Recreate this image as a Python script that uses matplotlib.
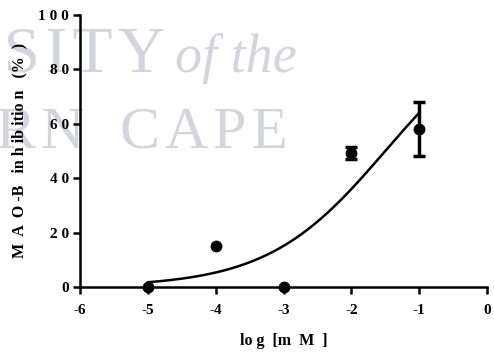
import numpy as np
import matplotlib.pyplot as plt

# data
log_conc = [-5, -4, -3, -2, -1]
inhibition = [0.0, 15.0, 0.0, 49.3, 58.0]
sem = [0.0, 0.0, 0.0, 2.2, 9.8]

# sigmoid fit (bottom, top, logIC50, hill)
fit_bottom = 0.0
fit_top = 100.0
fit_logic50 = -1.5
fit_hill = 0.5

x_ticks = [-6, -5, -4, -3, -2, -1, 0]
y_ticks = [0, 20, 40, 60, 80, 100]

plt.rcParams['font.family'] = ['Liberation Serif', 'DejaVu Serif']

fig = plt.figure(figsize=(4.94, 3.53), dpi=100)
ax = fig.add_axes([0.162, 0.187, 0.824, 0.771])
ax.patch.set_visible(False)
ax.set_zorder(2)

# watermark behind everything
wm = '#d4d4dd'
hs = '\u200a'
fig.text(0.334, 0.796, hs.join('UNIVERSITY'), color=wm, fontsize=47, ha='right',
         va='baseline', zorder=-1)
fig.text(0.354, 0.796, 'of the', color=wm, fontsize=39, style='italic',
         ha='left', va='baseline', zorder=-1)
fig.text(0.17, 0.581, hs.join('WESTERN'), color=wm, fontsize=43, ha='right',
         va='baseline', zorder=-1)
fig.text(0.243, 0.581, hs.join('CAPE'), color=wm, fontsize=43, ha='left',
         va='baseline', zorder=-1)

xs = np.linspace(-5, -1, 200)
ys = fit_bottom + (fit_top - fit_bottom) / (1 + 10 ** ((fit_logic50 - xs) * fit_hill))
ax.plot(xs, ys, color='black', lw=1.8, zorder=3)

x = np.array(log_conc)
y = np.array(inhibition)
e = np.array(sem)
has_err = e > 0
ax.errorbar(x[has_err], y[has_err], yerr=e[has_err], fmt='none', ecolor='black',
            elinewidth=2.5, capsize=4, capthick=2.5, zorder=4)
ax.plot(x, y, 'o', color='black', ms=7.5, zorder=5, clip_on=False)

ax.set_xlim(-6, 0)
ax.set_ylim(0, 100)
ax.set_xticks(x_ticks)
ax.set_yticks(y_ticks)
ax.set_xticklabels([str(t) for t in x_ticks])
ax.set_yticklabels([' '.join(str(t)) for t in y_ticks])
for s in ['top', 'right']:
    ax.spines[s].set_visible(False)
for s in ['left', 'bottom']:
    ax.spines[s].set_linewidth(1.8)
ax.tick_params(width=1.8, length=5, labelsize=11)
ax.tick_params(axis='x', pad=7)
ax.tick_params(axis='y', pad=3)
for lab in ax.get_xticklabels() + ax.get_yticklabels():
    lab.set_fontweight('bold')

ax.set_xlabel('lo g  [m  M  ]', fontsize=11.5, fontweight='bold', labelpad=12)
ax.set_ylabel('M  A  O -B   in h ib itio n   (%  )', fontsize=11.5,
              fontweight='bold', labelpad=8)

fig.savefig('out.png', dpi=100)
